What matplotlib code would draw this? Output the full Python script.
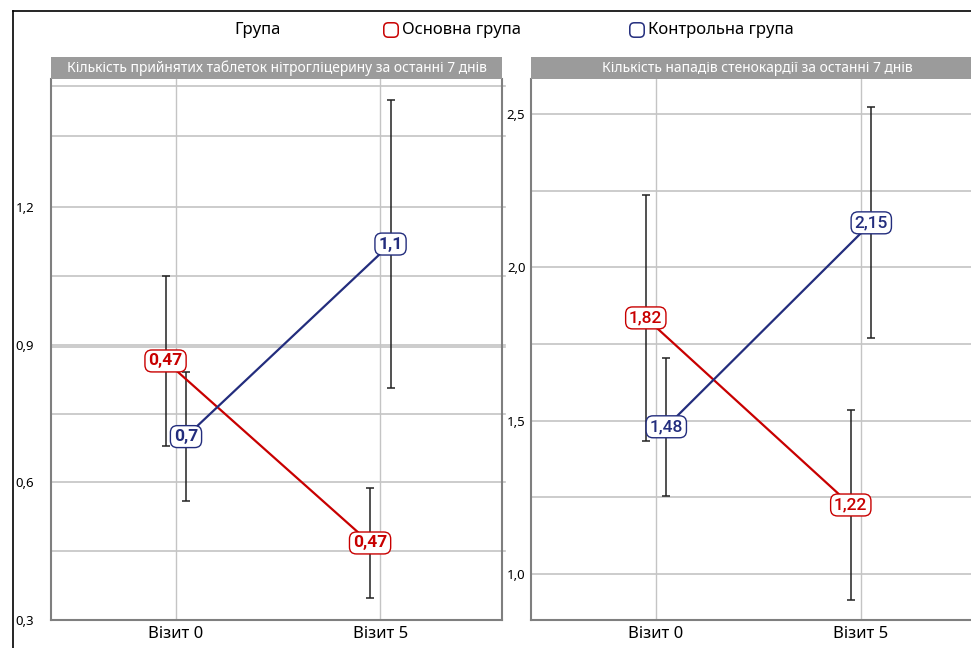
import matplotlib
matplotlib.use('Agg')
import matplotlib.pyplot as plt
from matplotlib.patches import Rectangle
from matplotlib.lines import Line2D

plt.rcParams['font.family'] = ['Noto Sans', 'DejaVu Sans']

# data
visits = ['Візит 0', 'Візит 5']
group_names = ['Основна група', 'Контрольна група']
legend_title = 'Група'

title_nitro = 'Кількість прийнятих таблеток нітрогліцерину за останні 7 днів'
nitro_main = [0.865, 0.468]
nitro_main_err = [0.185, 0.12]
nitro_main_labels = ['0,47', '0,47']
nitro_ctrl = [0.70, 1.12]
nitro_ctrl_err = [0.141, 0.315]
nitro_ctrl_labels = ['0,7', '1,1']
nitro_ticks = [0.3, 0.6, 0.9, 1.2]
nitro_tick_labels = ['0,3', '0,6', '0,9', '1,2']
nitro_grid = [0.45, 0.6, 0.75, 0.895, 0.9, 1.05, 1.2, 1.355, 1.465]

title_angina = 'Кількість нападів стенокардії за останні 7 днів'
angina_main = [1.835, 1.225]
angina_main_err = [0.40, 0.31]
angina_main_labels = ['1,82', '1,22']
angina_ctrl = [1.48, 2.145]
angina_ctrl_err = [0.225, 0.377]
angina_ctrl_labels = ['1,48', '2,15']
angina_ticks = [1.0, 1.5, 2.0, 2.5]
angina_tick_labels = ['1,0', '1,5', '2,0', '2,5']
angina_grid = [1.0, 1.25, 1.5, 1.75, 2.0, 2.25, 2.5]

red = '#c80000'
blue = '#232d7d'
W, H = 971, 648

fig = plt.figure(figsize=(9.71, 6.48), dpi=100)

# outer frame (top and left only, the rest is cut off)
fig.add_artist(Line2D([13 / W, 13 / W], [0, 1 - 11 / H], color='black', lw=1.2))
fig.add_artist(Line2D([13 / W, 1], [1 - 11 / H, 1 - 11 / H], color='black', lw=1.2))

# legend row
fig.text(258 / W, 1 - 30 / H, legend_title, ha='center', va='center', fontsize=12)
for name, col, xm in [(group_names[0], red, 391), (group_names[1], blue, 637)]:
    fig.text(xm / W, 1 - 30 / H, '\u2003', ha='center', va='center', fontsize=6.5,
             bbox=dict(boxstyle='round,pad=0.3,rounding_size=0.5', fc='white', ec=col, lw=1.1))
    fig.text((xm + 11) / W, 1 - 30 / H, name, ha='left', va='center', fontsize=12)


def panel(x0, x1, title, main, main_err, main_lab, ctrl, ctrl_err, ctrl_lab,
          ticks, tick_labels, grid, ylim, pad, bold, right_spine):
    ax = fig.add_axes([x0 / W, 1 - 620 / H, (x1 - x0) / W, (620 - 79) / H])
    ax.set_xlim(-0.61, 1.595)
    ax.set_ylim(*ylim)
    for y in grid:
        ax.axhline(y, xmin=0, xmax=1.007 if right_spine else 1, color='#c4c4c4',
                   lw=1.2, zorder=0, clip_on=False)
    for xv in range(len(visits)):
        ax.axvline(xv, color='#c4c4c4', lw=1.0, zorder=0)

    xs = list(range(len(visits)))
    xr = [x - 0.05 for x in xs]
    xb = [x + 0.05 for x in xs]
    ax.errorbar(xr, main, yerr=main_err, fmt='none', ecolor='#222222', elinewidth=1.1,
                capsize=3, capthick=1.1, zorder=2)
    ax.errorbar(xb, ctrl, yerr=ctrl_err, fmt='none', ecolor='#222222', elinewidth=1.1,
                capsize=3, capthick=1.1, zorder=2)
    ax.plot(xr, main, color=red, lw=1.6, zorder=3)
    ax.plot(xb, ctrl, color=blue, lw=1.6, zorder=3)
    for xx, yy, lab in zip(xr, main, main_lab):
        ax.text(xx, yy, lab, ha='center', va='center', color=red, fontsize=12.5,
                fontweight=bold, family=['Roboto', 'DejaVu Sans'], zorder=5,
                bbox=dict(boxstyle='round,pad=0.2,rounding_size=0.4', fc='white', ec=red, lw=1.0))
    for xx, yy, lab in zip(xb, ctrl, ctrl_lab):
        ax.text(xx, yy, lab, ha='center', va='center', color=blue, fontsize=12.5,
                fontweight=bold, family=['Roboto', 'DejaVu Sans'], zorder=5,
                bbox=dict(boxstyle='round,pad=0.2,rounding_size=0.4', fc='white', ec=blue, lw=1.0))

    ax.set_xticks(xs)
    ax.set_xticklabels(visits, fontsize=12)
    ax.set_yticks(ticks)
    ax.set_yticklabels(tick_labels, fontsize=9.5)
    ax.tick_params(axis='x', length=0, pad=4)
    ax.tick_params(axis='y', length=0, pad=pad)
    for s in ['left', 'bottom', 'right']:
        ax.spines[s].set_color('#7f7f7f')
        ax.spines[s].set_linewidth(1.5)
    ax.spines['top'].set_visible(False)
    ax.spines['right'].set_visible(right_spine)

    # grey title bar
    fig.add_artist(Rectangle((x0 / W, 1 - 79 / H), (x1 - x0) / W, 22 / H,
                             transform=fig.transFigure, fc='#9b9b9b', ec='none'))
    fig.text((x0 + x1) / 2 / W, 1 - 68 / H, title, ha='center', va='center',
             color='white', fontsize=10)
    return ax


panel(51, 502, title_nitro, nitro_main, nitro_main_err, nitro_main_labels,
      nitro_ctrl, nitro_ctrl_err, nitro_ctrl_labels, nitro_ticks, nitro_tick_labels,
      nitro_grid, (0.3, 1.48), 12, 'bold', True)
panel(531, 983, title_angina, angina_main, angina_main_err, angina_main_labels,
      angina_ctrl, angina_ctrl_err, angina_ctrl_labels, angina_ticks, angina_tick_labels,
      angina_grid, (0.85, 2.614), 4, 'medium', False)

fig.savefig('out.png', dpi=100)
